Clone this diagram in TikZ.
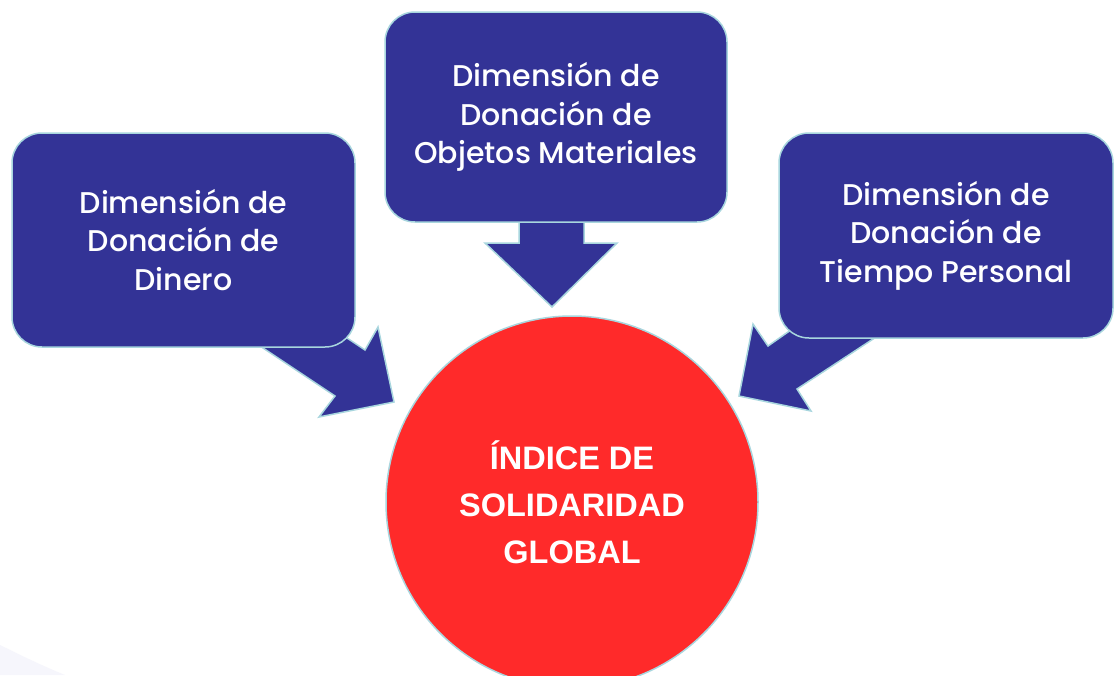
\documentclass[tikz,border=0pt]{standalone}
\usepackage{fontspec}
\setmainfont{Liberation Sans}
\newfontfamily\boxfont{Poppins Medium}
\definecolor{boxblue}{RGB}{51,51,150}
\definecolor{edgecyan}{RGB}{168,214,222}
\definecolor{discred}{RGB}{255,42,42}
\definecolor{fadelav}{RGB}{246,246,252}
\begin{document}
\begin{tikzpicture}[x=1pt,y=-1pt,
  dimbox/.style={draw=edgecyan, line width=1.5pt, fill=boxblue, rounded corners=30pt,
    text=white, align=center, inner sep=0pt,
    font=\boxfont\fontsize{30}{38.5}\selectfont},
  blockarrow/.style={draw=edgecyan, line width=1.5pt, fill=boxblue, line join=miter},
  disc/.style={circle, draw=edgecyan, line width=1.5pt, fill=discred, text=white,
    align=center, inner sep=0pt, minimum size=372pt,
    font=\fontsize{32.5}{47}\selectfont\bfseries}]
\useasboundingbox (0,0) rectangle (1115,675);
\clip (0,0) rectangle (1115,675);
\fill[white] (0,0) rectangle (1115,675);
% faint shading bottom-left
\fill[fadelav] (0,645) .. controls (20,655) and (45,667) .. (65,675) -- (0,675) -- cycle;
% block arrows (behind boxes)
\draw[blockarrow] (317,318) -- (365,350) -- (378,327) -- (394,402) -- (319,417) -- (335,396) -- (233,328) -- cycle;
\draw[blockarrow] (519,200) -- (519,243) -- (485,243) -- (552,307) -- (617,243) -- (584,243) -- (584,200) -- cycle;
\draw[blockarrow] (818,311) -- (768,346) -- (753,324) -- (739,396) -- (811,411) -- (797,389) -- (902,320) -- cycle;
% boxes
\node[dimbox, minimum width=343pt, minimum height=214pt] (dinero) at (183.5,240)
  {Dimensión de\\Donación de\\Dinero};
\node[dimbox, minimum width=342pt, minimum height=210pt] (objetos) at (556,117)
  {Dimensión de\\Donación de\\Objetos Materiales};
\node[dimbox, minimum width=334pt, minimum height=205pt] (tiempo) at (946,235.5)
  {Dimensión de\\Donación de\\Tiempo Personal};
% disc
\node[disc] (indice) at (572,502) {ÍNDICE DE\\SOLIDARIDAD\\GLOBAL};
\end{tikzpicture}
\end{document}
